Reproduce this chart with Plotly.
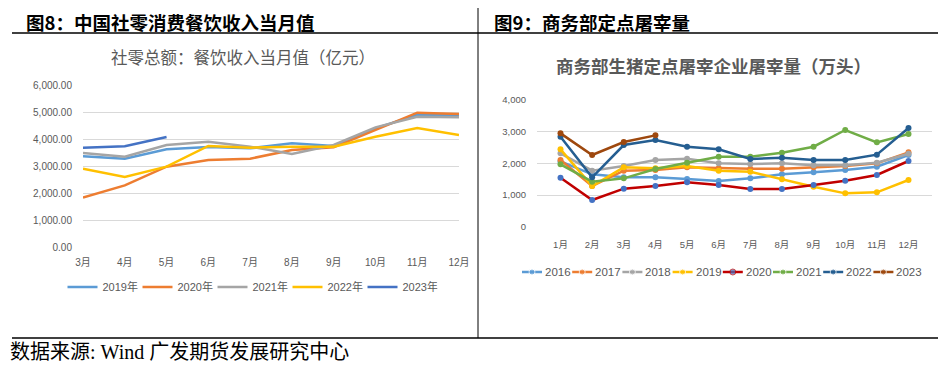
import plotly.graph_objects as go

W, H = 946, 366
OFF = 8  # page body margin offset in the browser

# ---------------- Left chart data ----------------
left_months = ["3月", "4月", "5月", "6月", "7月", "8月", "9月", "10月", "11月", "12月"]
left_2019 = [3358, 3272, 3617, 3704, 3654, 3840, 3741, 4395, 4900, 4889]
left_2020 = [1827, 2284, 2975, 3222, 3272, 3593, 3691, 4333, 4975, 4926]
left_2021 = [3481, 3346, 3778, 3901, 3716, 3444, 3778, 4432, 4827, 4802]
left_2022 = [2901, 2593, 2975, 3741, 3679, 3716, 3716, 4086, 4407, 4148]
left_2023 = [3679, 3728, 4074]
left_names = ["2019年", "2020年", "2021年", "2022年", "2023年"]
left_colors = ["#5B9BD5", "#ED7D31", "#A5A5A5", "#FFC000", "#4472C4"]
left_series = [left_2019, left_2020, left_2021, left_2022, left_2023]
left_ticks = [0, 1000, 2000, 3000, 4000, 5000, 6000]
left_ticktext = ["0.00", "1,000.00", "2,000.00", "3,000.00", "4,000.00", "5,000.00", "6,000.00"]

# ---------------- Right chart data ----------------
right_months = ["1月", "2月", "3月", "4月", "5月", "6月", "7月", "8月", "9月", "10月", "11月", "12月"]
r_2016 = [2060, 1653, 1558, 1558, 1505, 1442, 1526, 1653, 1716, 1789, 1895, 2263]
r_2017 = [2105, 1284, 1768, 1790, 1874, 1842, 1832, 1832, 1874, 1916, 2000, 2347]
r_2018 = [2316, 1768, 1916, 2105, 2147, 2000, 1979, 2000, 1937, 1937, 2021, 2305]
r_2019 = [2442, 1284, 1874, 1842, 1916, 1768, 1737, 1495, 1263, 1053, 1084, 1474]
r_2020 = [1547, 842, 1200, 1284, 1400, 1316, 1189, 1189, 1316, 1453, 1632, 2074]
r_2021 = [1968, 1421, 1526, 1821, 2021, 2211, 2211, 2337, 2526, 3053, 2663, 2926]
r_2022 = [2842, 1558, 2579, 2737, 2526, 2442, 2137, 2179, 2105, 2105, 2274, 3116]
r_2023 = [2947, 2263, 2674, 2884]
right_names = ["2016", "2017", "2018", "2019", "2020", "2021", "2022", "2023"]
right_series = [r_2016, r_2017, r_2018, r_2019, r_2020, r_2021, r_2022, r_2023]
right_line_colors = ["#5B9BD5", "#ED7D31", "#A5A5A5", "#FFC000", "#C00000", "#70AD47", "#255E91", "#9E480E"]
right_marker_colors = ["#5B9BD5", "#ED7D31", "#A5A5A5", "#FFC000", "#4472C4", "#70AD47", "#255E91", "#9E480E"]
right_ticks = [0, 1000, 2000, 3000, 4000]
right_ticktext = ["0", "1,000", "2,000", "3,000", "4,000"]

fig = go.Figure()

for name, vals, col in zip(left_names, left_series, left_colors):
    fig.add_trace(go.Scatter(
        x=left_months[:len(vals)], y=vals, name=name, mode="lines",
        line=dict(color=col, width=2.5), xaxis="x", yaxis="y", legend="legend"))

for name, vals, lc, mc in zip(right_names, right_series, right_line_colors, right_marker_colors):
    fig.add_trace(go.Scatter(
        x=right_months[:len(vals)], y=vals, name=name, mode="lines+markers",
        line=dict(color=lc, width=2.5), marker=dict(color=mc, size=6),
        xaxis="x2", yaxis="y2", showlegend=False))

def px_x(p):
    return (p - OFF) / W

def px_y(p):
    return 1 - (p - OFF) / H

# Right-chart legend, drawn on a hidden pixel-scaled axis strip
LEG_X0, LEG_STEP, LEG_LINE = 522, 50.2, 20
for i, (name, lc, mc) in enumerate(zip(right_names, right_line_colors, right_marker_colors)):
    x0 = LEG_X0 + i * LEG_STEP
    fig.add_trace(go.Scatter(
        x=[x0, x0 + LEG_LINE / 2, x0 + LEG_LINE], y=[0, 0, 0], mode="lines+markers",
        line=dict(color=lc, width=2.5), marker=dict(color=mc, size=[0, 6, 0]),
        xaxis="x3", yaxis="y3", showlegend=False, hoverinfo="skip"))
    fig.add_annotation(text=name, xref="x3", yref="y3", x=x0 + LEG_LINE + 1, y=0,
                       xanchor="left", yanchor="middle", showarrow=False,
                       font=dict(family="Liberation Sans", size=11.5, color="#595959"))

tick_font = dict(family="Liberation Sans, Noto Sans CJK SC", size=10, color="#595959")

fig.update_layout(
    width=W, height=H,
    margin=dict(l=0, r=0, t=0, b=0, autoexpand=False),
    paper_bgcolor="white", plot_bgcolor="white",
    xaxis=dict(domain=[px_x(83), px_x(459)], type="category", categoryorder="array",
               categoryarray=left_months, showgrid=False, zeroline=False, showline=False,
               ticks="", tickfont=tick_font, anchor="y", automargin=False,
               ticklabelstandoff=8),
    yaxis=dict(domain=[px_y(247), px_y(85)], range=[0, 6000], tickvals=left_ticks,
               ticktext=left_ticktext, showgrid=True, gridcolor="#D9D9D9", gridwidth=1,
               zeroline=False, showline=False, ticks="", tickfont=tick_font, anchor="x",
               ticklabelstandoff=10, automargin=False),
    xaxis2=dict(domain=[px_x(537), px_x(932)], type="category", categoryorder="array",
                categoryarray=right_months, showgrid=False, zeroline=False, showline=False,
                ticks="", tickfont=dict(family="Liberation Sans, Noto Sans CJK SC", size=9.5, color="#595959"),
                anchor="y2", automargin=False, ticklabelstandoff=11),
    yaxis2=dict(domain=[px_y(226.7), px_y(100)], range=[0, 4000], tickvals=right_ticks,
                ticktext=right_ticktext, showgrid=True, gridcolor="#D9D9D9", gridwidth=1,
                zeroline=False, showline=False, ticks="",
                tickfont=dict(family="Liberation Sans", size=9.5, color="#595959"),
                anchor="x2", ticklabelstandoff=10, automargin=False),
    xaxis3=dict(domain=[px_x(500), px_x(940)], range=[500, 940], visible=False, anchor="y3"),
    yaxis3=dict(domain=[px_y(282), px_y(262)], range=[-10, 10], visible=False, anchor="x3"),
    legend=dict(orientation="h", x=px_x(250), y=px_y(287), xanchor="center", yanchor="middle",
                font=dict(family="Liberation Sans, Noto Sans CJK SC", size=11, color="#595959"),
                itemwidth=30, entrywidth=30, entrywidthmode="pixels",
                bgcolor="rgba(0,0,0,0)"),
    showlegend=True,
)

# Frame lines
line_style = dict(color="black", width=1)
fig.add_shape(type="line", xref="paper", yref="paper", x0=px_x(12), x1=px_x(946), y0=px_y(33), y1=px_y(33), line=dict(color="black", width=1.5))
fig.add_shape(type="line", xref="paper", yref="paper", x0=px_x(12), x1=px_x(946), y0=px_y(338), y1=px_y(338), line=dict(color="black", width=1.5))
fig.add_shape(type="line", xref="paper", yref="paper", x0=px_x(478), x1=px_x(478), y0=1, y1=px_y(338), line=line_style)

heading_font = dict(family="Noto Sans CJK SC", size=18.5, color="black")
fig.add_annotation(text="<b>图8：中国社零消费餐饮收入当月值</b>", xref="paper", yref="paper",
                   x=px_x(25), y=1, xanchor="left", yanchor="top", showarrow=False,
                   borderpad=0, font=heading_font)
fig.add_annotation(text="<b>图9：商务部定点屠宰量</b>", xref="paper", yref="paper",
                   x=px_x(493), y=1, xanchor="left", yanchor="top", showarrow=False,
                   borderpad=0, font=heading_font)

fig.add_annotation(text="社零总额：餐饮收入当月值（亿元）", xref="paper", yref="paper",
                   x=px_x(243), y=px_y(57), xanchor="center", yanchor="middle", showarrow=False,
                   font=dict(family="Noto Sans CJK SC", size=16.5, color="#595959"))
fig.add_annotation(text="<b>商务部生猪定点屠宰企业屠宰量（万头）</b>", xref="paper", yref="paper",
                   x=px_x(713), y=px_y(66), xanchor="center", yanchor="middle", showarrow=False,
                   font=dict(family="Noto Sans CJK SC", size=17.5, color="#595959"))

fig.add_annotation(text="数据来源: Wind 广发期货发展研究中心", xref="paper", yref="paper",
                   x=px_x(9), y=px_y(352), xanchor="left", yanchor="middle", showarrow=False,
                   borderpad=0, font=dict(family="Liberation Serif, Noto Sans CJK SC", size=20, color="black"))

fig.write_html("out.html")
